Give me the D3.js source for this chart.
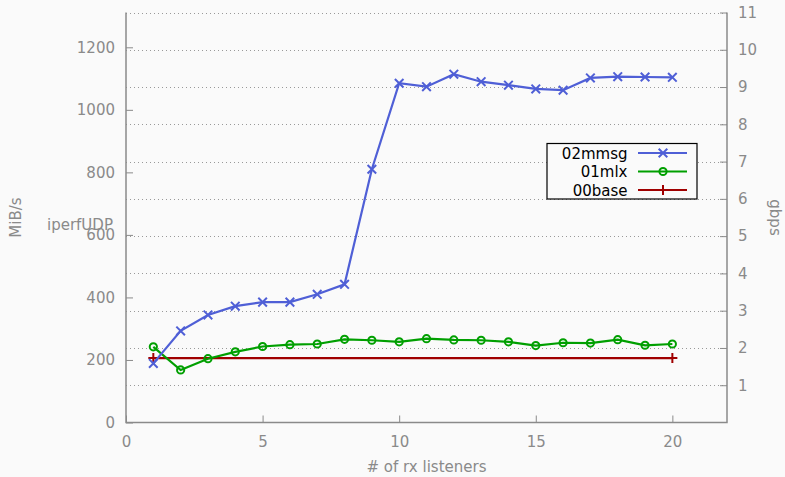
<!DOCTYPE html>
<html>
<head>
<meta charset="utf-8">
<script src="https://cdn.jsdelivr.net/npm/d3@7"></script>
<style>
  html, body { margin: 0; padding: 0; background: #fafafa; }
  svg { display: block; font-family: "DejaVu Sans", Verdana, sans-serif; }
</style>
</head>
<body>
<svg id="chart" width="785" height="477"></svg>
<script>
// Listener counts and measured throughput (MiB/s)
const listeners = [1, 2, 3, 4, 5, 6, 7, 8, 9, 10, 11, 12, 13, 14, 15, 16, 17, 18, 19, 20];
const mmsgValues = [189, 293, 344, 372, 385, 385, 410, 442, 810, 1085, 1074, 1114, 1090, 1079, 1067, 1063, 1102, 1106, 1105, 1104];
const mlxValues = [242, 168, 204, 226, 243, 249, 251, 266, 263, 258, 268, 264, 263, 258, 246, 255, 254, 265, 247, 251];
const baseX = [1, 20];
const baseValues = [206, 206];

const leftTicks = [0, 200, 400, 600, 800, 1000, 1200];
const rightTicks = [1, 2, 3, 4, 5, 6, 7, 8, 9, 10, 11];
const xTicks = [0, 5, 10, 15, 20];

const seriesNames = ["02mmsg", "01mlx", "00base"];
const seriesColors = ["#4f5fd6", "#009f00", "#a00000"];

// 11 Gbit/s expressed in MiB/s gives the top of the left axis
const gbpsMax = 11;
const mibMax = gbpsMax * 1e9 / 8 / 1048576;

const margin = { left: 126, right: 58, top: 12.5, bottom: 54.5 };
const W = 785, H = 477;
const svg = d3.select("#chart");
const textColor = "#8a8a8a";
const axisColor = "#8a8a8a";

const x = d3.scaleLinear().domain([0, 22]).range([margin.left, W - margin.right]);
const yL = d3.scaleLinear().domain([0, mibMax]).range([H - margin.bottom, margin.top]);
const yR = d3.scaleLinear().domain([0, gbpsMax]).range([H - margin.bottom, margin.top]);

const x0 = x.range()[0], x1 = x.range()[1];
const yb = yL.range()[0], yt = yL.range()[1];

// dotted grid at each Gbit/s tick
svg.append("g").selectAll("line").data(rightTicks).join("line")
  .attr("x1", x0).attr("x2", x1)
  .attr("y1", d => Math.round(yR(d)) + 0.5).attr("y2", d => Math.round(yR(d)) + 0.5)
  .attr("stroke", "#999").attr("stroke-width", 1).attr("stroke-dasharray", "1,3");

// axes (ticks point inward)
const gL = svg.append("g").attr("transform", `translate(${x0},0)`)
  .call(d3.axisLeft(yL).tickValues(leftTicks).tickSize(-7).tickPadding(11).tickFormat(d3.format("d")));
const gR = svg.append("g").attr("transform", `translate(${x1},0)`)
  .call(d3.axisRight(yR).tickValues(rightTicks).tickSize(-7).tickPadding(11).tickFormat(d3.format("d")));
const gX = svg.append("g").attr("transform", `translate(0,${yb})`)
  .call(d3.axisBottom(x).tickValues(xTicks).tickSize(-7).tickPadding(14).tickFormat(d3.format("d")));

[gL, gR, gX].forEach(g => {
  g.select(".domain").remove();
  g.selectAll(".tick line").attr("stroke", axisColor);
  g.selectAll(".tick text").attr("fill", textColor).style("font-size", "15px")
    .style("font-family", "'DejaVu Sans', Verdana, sans-serif");
});

// axis border: left, bottom, right
svg.append("path")
  .attr("d", `M${x0},${yt}V${yb}H${x1}V${yt}`)
  .attr("fill", "none").attr("stroke", axisColor).attr("stroke-width", 1.5);

// axis titles
svg.append("text").attr("transform", `translate(21,${(yt + yb) / 2}) rotate(-90)`)
  .attr("text-anchor", "middle").attr("fill", textColor).style("font-size", "15px").text("MiB/s");
svg.append("text").attr("transform", `translate(770,${(yt + yb) / 2}) rotate(90)`)
  .attr("text-anchor", "middle").attr("fill", textColor).style("font-size", "15px").text("gbps");
svg.append("text").attr("x", (x0 + x1) / 2).attr("y", 472)
  .attr("text-anchor", "middle").attr("fill", textColor).style("font-size", "15px").text("# of rx listeners");
svg.append("text").attr("x", 47).attr("y", 230)
  .attr("fill", textColor).style("font-size", "15px").text("iperfUDP");

// series
const line = d3.line().x(d => x(d[0])).y(d => yL(d[1]));
const series = [
  { name: seriesNames[0], color: seriesColors[0], pts: d3.zip(listeners, mmsgValues), mark: "x" },
  { name: seriesNames[1], color: seriesColors[1], pts: d3.zip(listeners, mlxValues), mark: "o" },
  { name: seriesNames[2], color: seriesColors[2], pts: d3.zip(baseX, baseValues), mark: "+" }
];

function drawMarker(g, type, cx, cy, color) {
  if (type === "x") {
    const r = 4.3;
    g.append("path").attr("d", `M${cx - r},${cy - r}L${cx + r},${cy + r}M${cx - r},${cy + r}L${cx + r},${cy - r}`)
      .attr("stroke", color).attr("stroke-width", 2).attr("fill", "none");
  } else if (type === "o") {
    g.append("circle").attr("cx", cx).attr("cy", cy).attr("r", 3.6)
      .attr("stroke", color).attr("stroke-width", 2).attr("fill", "none");
  } else {
    const r = 5;
    g.append("path").attr("d", `M${cx - r},${cy}L${cx + r},${cy}M${cx},${cy - r}L${cx},${cy + r}`)
      .attr("stroke", color).attr("stroke-width", 2).attr("fill", "none");
  }
}

// draw back to front: base, mlx, mmsg
series.slice().reverse().forEach(s => {
  const g = svg.append("g");
  g.append("path").attr("d", line(s.pts)).attr("fill", "none")
    .attr("stroke", s.color).attr("stroke-width", 2.2);
  s.pts.forEach(p => drawMarker(g, s.mark, x(p[0]), yL(p[1]), s.color));
});

// legend
const lg = svg.append("g");
lg.append("rect").attr("x", 547).attr("y", 143.5).attr("width", 150).attr("height", 55.5)
  .attr("fill", "#fafafa").attr("stroke", "#000").attr("stroke-width", 1.2);
series.forEach((s, i) => {
  const cy = 153 + i * 18.5;
  lg.append("text").attr("x", 627.5).attr("y", cy + 5.5).attr("text-anchor", "end")
    .attr("fill", "#000").style("font-size", "15px").text(s.name);
  lg.append("line").attr("x1", 638).attr("x2", 687).attr("y1", cy).attr("y2", cy)
    .attr("stroke", s.color).attr("stroke-width", 2.2);
  drawMarker(lg, s.mark, 663, cy, s.color);
});
</script>
</body>
</html>
